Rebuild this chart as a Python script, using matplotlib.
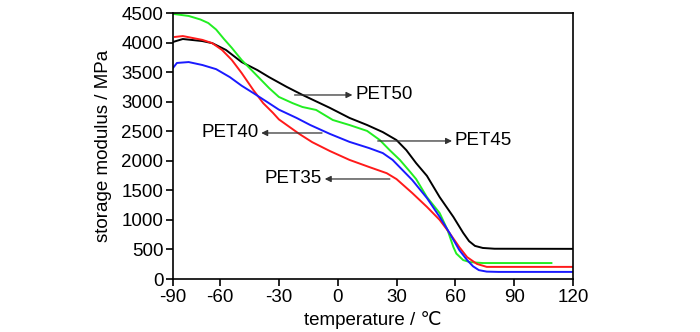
import matplotlib
matplotlib.use("Agg")
import matplotlib.pyplot as plt

plt.rcParams['font.family'] = ['Liberation Sans', 'DejaVu Sans']

# storage modulus (MPa) against temperature (deg C)
pet50_t = [-84, -79, -69, -64, -57, -49, -41, -35, -26, -18, -4, 6, 15, 23, 30,
           35, 40, 45.5, 52, 59, 64, 67, 70, 74, 80, 120]
pet50_e = [4010, 4060, 4025, 3990, 3875, 3670, 3535, 3415, 3250, 3115, 2895, 2725,
           2605, 2485, 2350, 2180, 1960, 1745, 1385, 1050, 780, 640, 560, 525, 512, 510]

pet45_t = [-84, -76, -70, -66, -62, -58, -54, -49, -45, -40, -35, -30, -23, -18, -11,
           -2.5, 6, 15, 21.5, 26.5, 31.7, 37, 40, 45.5, 52, 56, 59, 60.5, 64, 67.5,
           74, 109]
pet45_e = [4485, 4450, 4390, 4330, 4220, 4060, 3910, 3705, 3570, 3400, 3230, 3080,
           2975, 2910, 2860, 2690, 2605, 2505, 2350, 2180, 2015, 1810, 1690, 1385,
           1115, 830, 540, 430, 320, 285, 270, 270]

pet40_t = [-84, -82, -76, -69, -62, -55, -49, -43, -36, -30, -21, -14, -4, 6, 16,
           23, 28, 33, 38, 45.5, 52, 57, 62, 66, 69, 72, 76, 82, 120]
pet40_e = [3570, 3655, 3670, 3620, 3550, 3415, 3270, 3145, 2995, 2865, 2725, 2605,
           2455, 2320, 2215, 2130, 2015, 1845, 1675, 1370, 1050, 780, 490, 320, 215,
           150, 125, 120, 120]

pet35_t = [-83, -79, -69, -64, -59, -54, -49, -43, -38, -33, -30, -24.5, -19.4, -13,
           -4, 6, 16, 25, 30, 38, 45.5, 52, 57, 62, 66, 71, 76, 120]
pet35_e = [4095, 4110, 4045, 3990, 3875, 3705, 3485, 3195, 2975, 2810, 2700, 2570,
           2450, 2315, 2165, 2015, 1895, 1790, 1690, 1455, 1220, 1000, 780, 540, 370,
           255, 205, 205]

x_ticks = [-84, -60, -30, 0, 30, 60, 90, 120]
x_labels = ['-90', '-60', '-30', '0', '30', '60', '90', '120']
y_ticks = list(range(0, 5000, 500))

fig = plt.figure(figsize=(7, 3.32), dpi=100)
ax = fig.add_axes([173 / 700, 53 / 332, 400 / 700, 266 / 332])

lw = 1.4
ax.plot(pet50_t, pet50_e, color='black', lw=lw)
ax.plot(pet45_t, pet45_e, color='#22ee22', lw=lw)
ax.plot(pet35_t, pet35_e, color='#ff1a1a', lw=lw)
ax.plot(pet40_t, pet40_e, color='#1a1aff', lw=lw)

ax.set_xlim(-84, 120)
ax.set_ylim(0, 4500)
ax.set_xticks(x_ticks)
ax.set_xticklabels(x_labels)
ax.set_yticks(y_ticks)

for s in ax.spines.values():
    s.set_linewidth(1.2)
ax.tick_params(direction='out', length=5, width=1.2, labelsize=13.5, pad=2)

ax.set_xlabel('temperature / \u2103', fontsize=13.5, labelpad=4)
ax.set_ylabel('storage modulus / MPa', fontsize=13.5, labelpad=7)

arrow = dict(arrowstyle='-|>', color='#333333', lw=0.9, mutation_scale=9,
             shrinkA=0, shrinkB=0)
labels = [
    ('PET50', (-22, 3113), (7.5, 3113), 'left'),
    ('PET40', (-8, 2470), (-39, 2470), 'right'),
    ('PET45', (20.4, 2335), (58.3, 2335), 'left'),
    ('PET35', (26.6, 1692), (-6.6, 1692), 'right'),
]
for name, tail, head, ha in labels:
    ax.annotate('', xy=head, xytext=tail, arrowprops=arrow)
    tx = head[0] + (1.5 if ha == 'left' else -1.5)
    ax.text(tx, head[1], name, ha=ha, va='center', fontsize=13.5)

fig.savefig('out.png', dpi=100)
